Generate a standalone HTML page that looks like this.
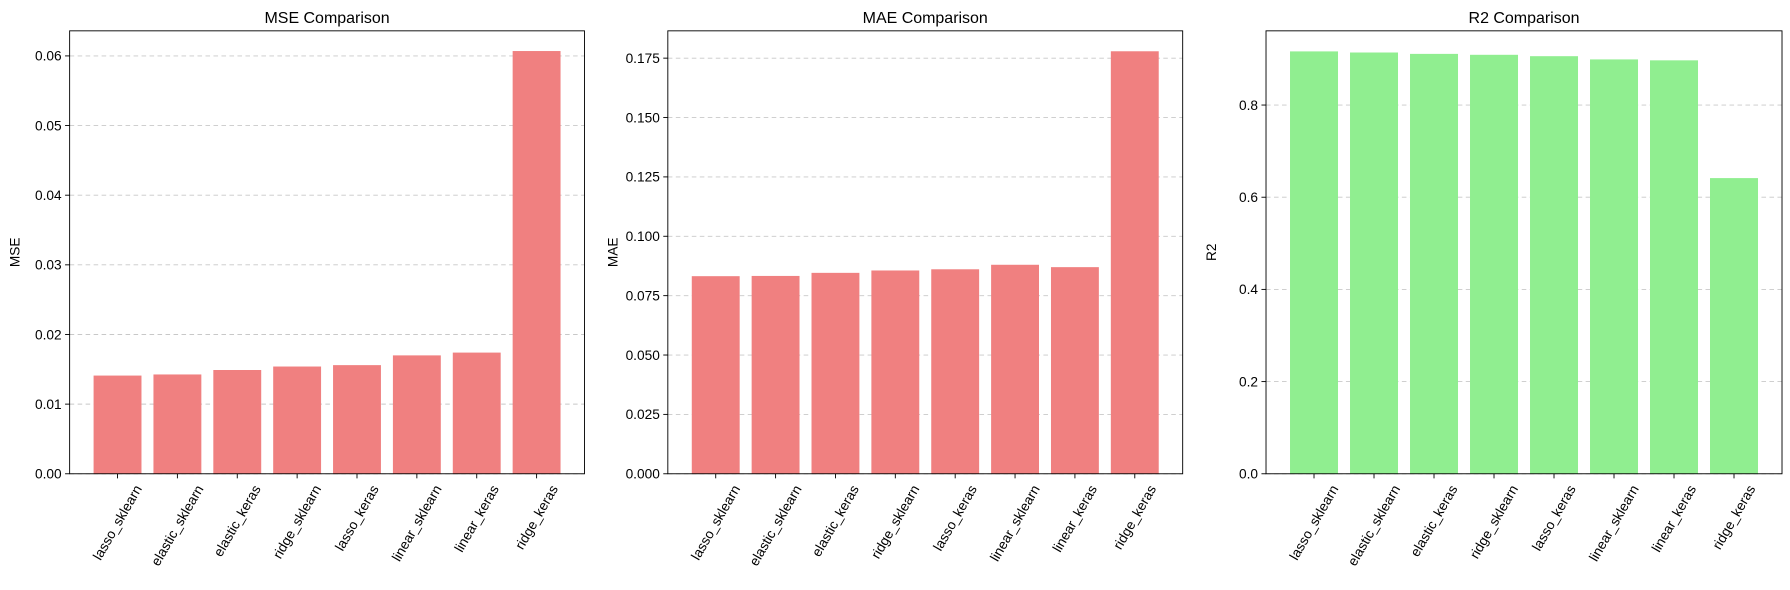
<!DOCTYPE html>
<html><head><meta charset="utf-8"><style>
body{margin:0;background:#fff;}
svg{display:block;font-family:"Liberation Sans","DejaVu Sans",sans-serif;}
</style></head><body>
<svg id="chart" width="1790" height="590" viewBox="0 0 1568 516.8"></svg>
<script>
const categories = ["lasso_sklearn","elastic_sklearn","elastic_keras","ridge_sklearn","lasso_keras","linear_sklearn","linear_keras","ridge_keras"];
const mseValues = [0.0141,0.01426,0.0149,0.0154,0.0156,0.0170,0.0174,0.0607];
const maeValues = [0.0832,0.0833,0.0846,0.0856,0.0861,0.0880,0.0870,0.1779];
const r2Values = [0.9164,0.914,0.911,0.909,0.906,0.899,0.897,0.6415];
const mseTicks = [0,0.01,0.02,0.03,0.04,0.05,0.06];
const mseTickLabels = ["0.00","0.01","0.02","0.03","0.04","0.05","0.06"];
const maeTicks = [0,0.025,0.05,0.075,0.1,0.125,0.15,0.175];
const maeTickLabels = ["0.000","0.025","0.050","0.075","0.100","0.125","0.150","0.175"];
const r2Ticks = [0,0.2,0.4,0.6,0.8];
const r2TickLabels = ["0.0","0.2","0.4","0.6","0.8"];

const NS="http://www.w3.org/2000/svg";
const svgEl=document.getElementById('chart');
function mk(tag,attrs,parent){const e=document.createElementNS(NS,tag);for(const k in attrs)e.setAttribute(k,attrs[k]);(parent||svgEl).appendChild(e);return e;}

const panels=[
 {key:'mse',title:'MSE Comparison',ylabel:'MSE',vals:mseValues,ticks:mseTicks,labels:mseTickLabels,ymax:0.0636,left:61,right:512,color:'#F08080'},
 {key:'mae',title:'MAE Comparison',ylabel:'MAE',vals:maeValues,ticks:maeTicks,labels:maeTickLabels,ymax:0.1865,left:585,right:1036,color:'#F08080'},
 {key:'r2',title:'R2 Comparison',ylabel:'R2',vals:r2Values,ticks:r2Ticks,labels:r2TickLabels,ymax:0.961,left:1109,right:1561,color:'#90EE90'}
];
const plotTop=27,plotBottom=415;
panels.forEach(p=>{
 const g=mk('g',{});
 
 
 const n=categories.length, span=n+0.6;
 const xs=i=>p.left+(i+0.8)*(p.right-p.left)/span;
 const bw=0.8*(p.right-p.left)/span;
 const ys=v=>plotBottom-v/p.ymax*(plotBottom-plotTop);
 p.ticks.forEach((t,i)=>{
  const y=ys(t);
  const gl=mk('line',{x1:p.left,x2:p.right,y1:y,y2:y,stroke:'#b0b0b0','stroke-opacity':0.7,'stroke-dasharray':'4,3','stroke-width':0.8},g);
  
  
  mk('line',{x1:p.left-4,x2:p.left,y1:y,y2:y,stroke:'#000','stroke-width':0.8},g);
  const tl=mk('text',{x:p.left-7,y:y+4.2,'text-anchor':'end','font-size':12},g);
  tl.textContent=p.labels[i];
  
  
 });
 p.vals.forEach((v,i)=>{
  const r=mk('rect',{x:xs(i)-bw/2,y:ys(v),width:bw,height:plotBottom-ys(v),fill:p.color},g);
  
  
  mk('line',{x1:xs(i),x2:xs(i),y1:plotBottom,y2:plotBottom+4,stroke:'#000','stroke-width':0.8},g);
  const t=mk('text',{'text-anchor':'middle','dominant-baseline':'central','font-size':12},g);
  t.textContent=categories[i];
  
  
  let L=0;
  try{L=t.getComputedTextLength();}catch(e){}
  if(!L)L=categories[i].length*6.5;
  const h=12, hh=L*Math.sin(Math.PI/3)+h*0.5;
  const cx=xs(i), cy=plotBottom+8+hh/2;
  t.setAttribute('x',cx);t.setAttribute('y',cy);
  t.setAttribute('transform','rotate(-60 '+cx+' '+cy+')');
 });
 const fr=mk('rect',{x:p.left,y:plotTop,width:p.right-p.left,height:plotBottom-plotTop,fill:'none',stroke:'#000','stroke-width':0.8},g);
 
 
 const ti=mk('text',{x:(p.left+p.right)/2,y:plotTop-7,'text-anchor':'middle','font-size':14},g);
 ti.textContent=p.title;
 
 
 const yl=mk('text',{x:0,y:0,'text-anchor':'middle','font-size':12,transform:'translate('+(p.left-44)+','+((plotTop+plotBottom)/2)+') rotate(-90)'},g);
 yl.textContent=p.ylabel;
 
 
});
</script>
</body></html>
